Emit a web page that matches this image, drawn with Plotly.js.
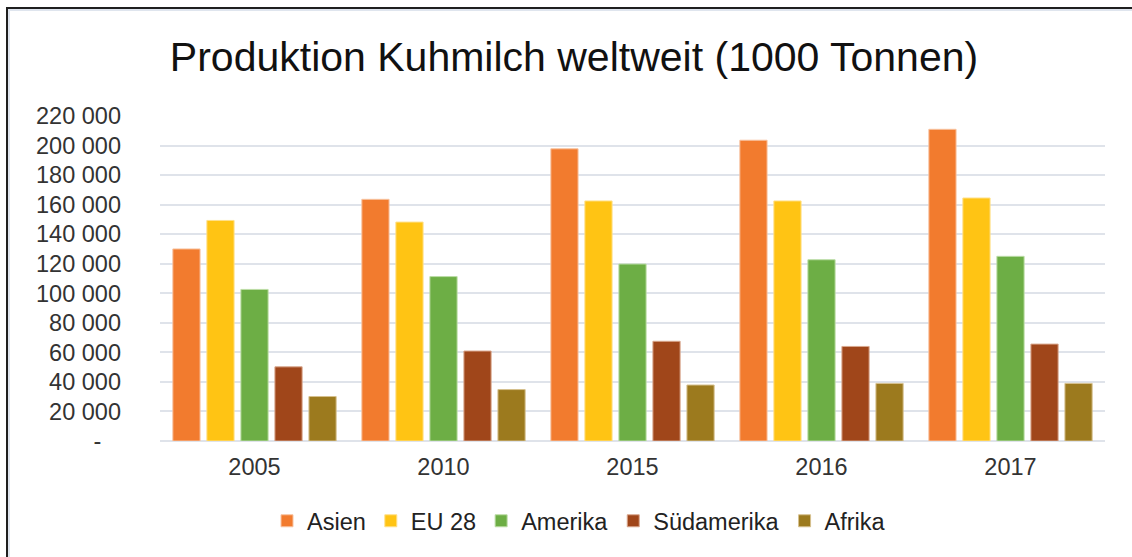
<!DOCTYPE html>
<html>
<head>
<meta charset="utf-8">
<script src="https://cdn.plot.ly/plotly-3.0.1.min.js"></script>
<style>
  html, body { margin:0; padding:0; background:#fff; overflow:hidden; }
  #frame { position:absolute; left:6px; top:7px; width:1200px; height:600px;
           border-left:2px solid #1f1f1f; border-top:2px solid #1f1f1f;
           box-shadow: inset 2px 2px 0 #dfe5ee; }
  #chart { position:absolute; left:0; top:0; width:1132px; height:557px; }
</style>
</head>
<body>
<div id="frame"></div>
<div id="chart"></div>
<script>
const years = ['2005', '2010', '2015', '2016', '2017'];
const seriesNames = ['Asien', 'EU 28', 'Amerika', 'Südamerika', 'Afrika'];
const asien      = [130000, 163600, 197800, 203600, 211000];
const eu28       = [149300, 148200, 162500, 162500, 164500];
const amerika    = [102600, 111300, 119800, 122700, 125000];
const suedamerika= [50200, 60900, 67500, 64000, 65600];
const afrika     = [30100, 34800, 37900, 39000, 39000];
const yTickVals  = [0, 20000, 40000, 60000, 80000, 100000, 120000, 140000, 160000, 180000, 200000, 220000];
const yTickText  = ['-\u00a0\u00a0\u00a0', '20 000', '40 000', '60 000', '80 000', '100 000', '120 000', '140 000', '160 000', '180 000', '200 000', '220 000'];

const values = [asien, eu28, amerika, suedamerika, afrika];
const fills  = ['#F27B2E', '#FFC414', '#6DAE45', '#A0461A', '#9C7A1E'];
const edges  = ['#F8C3A0', '#FFE08A', '#BCDDA6', '#D9A78E', '#D6C08E'];

const traces = seriesNames.map((name, i) => ({
  type: 'bar',
  name: name,
  x: years,
  y: values[i],
  marker: { color: fills[i], line: { color: edges[i], width: 1 } },
  hoverinfo: 'x+y+name'
}));

const font = 'Liberation Sans, Arial, sans-serif';
const layout = {
  width: 1132, height: 557,
  margin: { l: 160, r: 27, t: 116, b: 116 },
  paper_bgcolor: 'rgba(0,0,0,0)',
  plot_bgcolor: 'rgba(0,0,0,0)',
  barmode: 'group',
  bargap: 0.1,
  bargroupgap: 0.2,
  title: {
    text: 'Produktion Kuhmilch weltweit (1000 Tonnen)',
    font: { family: font, size: 41, color: '#111' },
    x: 574 / 1132, xanchor: 'center', xref: 'container',
    y: 1 - 57 / 557, yanchor: 'middle', yref: 'container'
  },
  xaxis: {
    type: 'category',
    tickfont: { family: font, size: 23.5, color: '#333' },
    showgrid: false, zeroline: false, showline: false,
    ticks: '', ticklabelstandoff: 9
  },
  yaxis: {
    range: [0, 220000],
    tickvals: yTickVals, ticktext: yTickText,
    tickfont: { family: font, size: 23.5, color: '#333' },
    showgrid: true, gridcolor: '#dfe3ea', gridwidth: 2,
    zeroline: true, zerolinecolor: '#dfe3ea', zerolinewidth: 2,
    showline: false, ticks: '', ticklabelstandoff: 38
  },
  legend: {
    orientation: 'h',
    x: (579 - 160) / 945, xanchor: 'center',
    y: (441 - 521) / 325, yanchor: 'middle',
    font: { family: font, size: 23.5, color: '#222' },
    itemwidth: 30
  },
  showlegend: true
};

Plotly.newPlot('chart', traces, layout, { displayModeBar: false, staticPlot: true });
</script>
</body>
</html>
